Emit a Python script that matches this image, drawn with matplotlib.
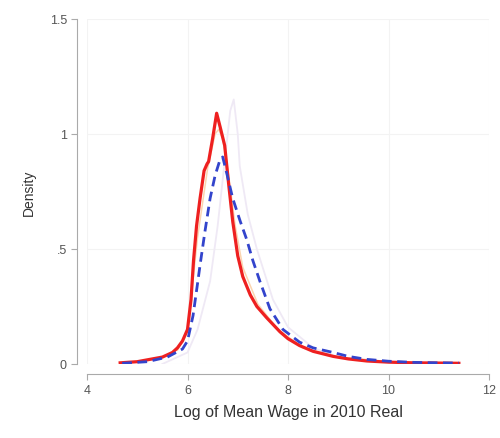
import matplotlib.pyplot as plt

plt.rcParams['font.family'] = ['Liberation Sans', 'DejaVu Sans']

# curves: log mean wage -> density
red_x = [4.66, 5.0, 5.25, 5.5, 5.7, 5.8, 5.9, 6.0, 6.07, 6.12, 6.18, 6.25, 6.33, 6.39, 6.42,
         6.5, 6.58, 6.65, 6.74, 6.82, 6.9, 7.0, 7.1, 7.25, 7.38, 7.58, 7.84, 8.0, 8.23,
         8.5, 8.9, 9.2, 9.57, 10.0, 10.5, 11.0, 11.4]
red_y = [0.005, 0.01, 0.02, 0.03, 0.05, 0.07, 0.1, 0.15, 0.28, 0.45, 0.6, 0.72, 0.84, 0.87, 0.88,
         0.98, 1.09, 1.03, 0.95, 0.78, 0.62, 0.47, 0.38, 0.3, 0.25, 0.2, 0.14, 0.11, 0.08,
         0.055, 0.033, 0.022, 0.013, 0.008, 0.005, 0.004, 0.003]

blue_x = [4.7, 5.2, 5.6, 5.9, 6.0, 6.11, 6.2, 6.25, 6.35, 6.45, 6.55, 6.65, 6.7, 6.78, 6.9,
          7.05, 7.18, 7.3, 7.44, 7.64, 7.9, 8.23, 8.5, 8.9, 9.2, 9.57, 10.0, 10.5, 11.0, 11.4]
blue_y = [0.003, 0.01, 0.03, 0.065, 0.1, 0.21, 0.35, 0.43, 0.58, 0.72, 0.82, 0.89, 0.9, 0.83, 0.72,
          0.62, 0.54, 0.45, 0.36, 0.24, 0.15, 0.095, 0.07, 0.05, 0.033, 0.02, 0.012, 0.007, 0.005, 0.004]

faint_x = [5.5, 6.0, 6.2, 6.45, 6.6, 6.75, 6.85, 6.92, 7.0, 7.04, 7.2, 7.38, 7.7, 8.0, 8.5,
           9.0, 10.0, 11.4]
faint_y = [0.0, 0.05, 0.15, 0.36, 0.6, 0.9, 1.1, 1.15, 1.0, 0.86, 0.65, 0.5, 0.28, 0.16, 0.07,
           0.03, 0.01, 0.003]

orange_x = [5.8, 6.0, 6.2, 6.4, 6.55, 6.62, 6.7, 6.8, 6.95, 7.1, 7.4, 7.8, 8.3, 9.0, 10.0]
orange_y = [0.06, 0.14, 0.55, 0.85, 1.0, 1.02, 0.98, 0.85, 0.6, 0.42, 0.26, 0.15, 0.07, 0.03, 0.01]

xticks = [4, 6, 8, 10, 12]
yticks = [0, 0.5, 1, 1.5]
ylabels = ['0', '.5', '1', '1.5']

fig = plt.figure(figsize=(5, 4.39), dpi=100)
ax = fig.add_axes([0.174, 0.1686, 0.804, 0.786])

ax.plot(faint_x, faint_y, color='#efe9f5', lw=1.3, zorder=1)
ax.plot(orange_x, orange_y, color='#fbd5b0', lw=1.1, zorder=1)
ax.plot(blue_x, blue_y, color='#3344cc', lw=2, ls=(0, (3.5, 2)), zorder=3)
ax.plot(red_x, red_y, color='#ee2020', lw=2.3, zorder=2)

ax.set_xlim(4, 12)
ax.set_ylim(0, 1.5)
ax.set_xticks(xticks)
ax.set_yticks(yticks)
ax.set_yticklabels(ylabels)
ax.grid(True, color='#f3f3f3', lw=0.8)
ax.set_axisbelow(True)

for s in ['top', 'right']:
    ax.spines[s].set_visible(False)
for s in ['left', 'bottom']:
    ax.spines[s].set_position(('outward', 7))
    ax.spines[s].set_color('#aaaaaa')
ax.tick_params(colors='#aaaaaa', labelcolor='#555555', labelsize=9, length=4)

ax.set_xlabel('Log of Mean Wage in 2010 Real', fontsize=11.5, color='#333333', labelpad=6)
ax.set_ylabel('Density', fontsize=10, color='#333333', labelpad=10)

plt.savefig('out.png')
